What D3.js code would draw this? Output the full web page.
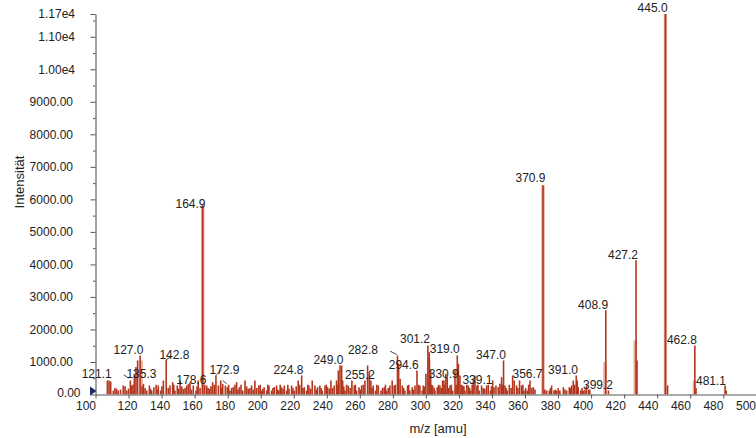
<!DOCTYPE html>
<html><head><meta charset="utf-8">
<script src="https://cdn.jsdelivr.net/npm/d3@7"></script>
<style>
html,body{margin:0;padding:0;background:#fff;}
svg{display:block;font-family:"Liberation Sans",Arial,sans-serif;}
</style></head><body>
<svg id="chart" width="756" height="438"></svg>
<script>
// centroid sticks: [m/z, intensity]
const sticks = [
[107.2,431],[108.2,431],[109.2,400],[110.8,123],[112.8,175],[113.8,123],[116.8,277],[118.9,123],
[121.1,431],[121.9,277],[123.5,637],[124.5,842],[125.5,1047],[127.0,1200],[129.0,328],[131.0,123],
[132.6,277],[134.0,123],[135.3,226],[138.0,277],[139.4,123],[141.1,431],[142.8,1067],[145.1,277],
[146.7,380],[148.1,123],[149.5,277],[151.2,431],[153.2,175],[155.2,277],[157.2,380],[159.2,277],
[160.8,123],[162.2,431],[164.9,5820],[167.3,277],[168.9,175],[170.9,380],[172.9,585],[174.4,277],
[175.8,431],[177.0,328],[178.6,277],[179.8,226],[181.4,123],[183.4,226],[185.4,380],[187.1,226],
[189.1,123],[190.5,431],[192.5,175],[194.5,277],[196.5,431],[198.8,277],[200.5,123],[202.1,226],
[203.6,123],[205.0,277],[206.6,123],[208.2,226],[209.6,277],[211.0,123],[212.6,226],[214.3,277],
[215.7,123],[217.1,175],[218.7,277],[220.3,123],[222.7,431],[224.8,585],[226.4,226],[227.8,123],
[229.2,277],[231.2,431],[232.8,277],[234.4,226],[235.8,277],[237.3,123],[238.9,277],[240.5,226],
[242.5,431],[244.5,277],[245.9,431],[247.0,740],[248.0,893],[249.0,893],[249.6,431],[251.0,123],
[253.0,277],[255.2,431],[256.6,277],[258.0,123],[259.5,226],[261.1,277],[263.1,431],[264.7,893],
[265.7,688],[266.7,431],[268.1,277],[269.5,123],[271.2,277],[272.8,123],[274.8,226],[276.2,123],
[278.2,277],[279.6,431],[280.8,277],[282.8,1200],[283.5,945],[284.4,483],[285.7,277],[287.3,123],
[288.9,277],[290.3,123],[291.7,226],[293.4,277],[294.6,740],[296.4,277],[297.8,123],[298.4,277],
[300.0,637],[301.2,1510],[302.0,1303],[302.9,740],[304.1,277],[305.5,123],[306.9,226],[308.5,277],
[310.1,431],[310.9,431],[312.1,637],[312.9,534],[314.6,277],[316.2,123],[317.6,740],[319.0,1200],
[319.7,945],[320.6,585],[322.2,277],[323.6,123],[325.7,277],[327.1,123],[328.7,431],[329.7,585],
[330.9,277],[332.3,123],[333.7,277],[335.7,175],[336.8,277],[339.1,123],[340.4,431],[341.2,226],
[342.4,277],[343.8,226],[344.8,328],[345.8,534],[347.0,1047],[347.9,277],[349.3,123],[352.5,585],
[353.5,431],[354.9,277],[356.7,431],[357.9,277],[359.4,123],[361.4,123],[363.0,431],[365.0,226],
[370.9,6435],[373.1,123],[374.7,123],[376.1,277],[377.5,123],[379.1,123],[381.1,123],[383.2,226],
[385.2,123],[386.8,226],[388.2,277],[389.2,431],[391.0,585],[391.6,431],[392.2,226],[393.7,123],
[395.3,123],[397.3,277],[398.6,150],[399.2,150],[408.9,2590],[410.5,123],[427.2,4125],[427.8,1047],
[445.0,11700],[446.3,277],[462.8,1508],[463.5,200],[481.1,277],[481.8,123],
[111.8,200],[115.2,150],[117.9,250],[120.0,180],[122.7,300],[128.2,250],[130.0,200],[133.3,180],
[136.7,300],[137.3,150],[140.2,250],[144.0,200],[147.4,300],[150.3,180],[152.2,250],[154.2,200],
[156.2,320],[158.1,150],[161.5,250],[163.3,200],[166.1,300],[168.1,200],[169.9,250],[171.9,300],
[176.4,200],[180.6,300],[182.4,200],[184.4,300],[186.2,150],[188.1,300],[191.5,250],[193.5,200],
[195.5,150],[197.6,200],[199.7,300],[201.3,180],[204.3,300],[207.4,200],[210.3,150],[211.8,300],
[213.5,180],[216.4,300],[219.5,200],[221.5,250],[223.6,300],[225.6,200],[228.5,300],[230.2,180],
[233.6,150],[236.6,200],[239.7,300],[241.5,180],[243.5,200],[246.5,300],[250.3,250],[252.0,300],
[254.1,200],[257.3,300],[260.3,150],[262.1,300],[267.4,200],[270.3,300],[273.8,200],[275.5,300],
[277.2,200],[281.5,300],[286.5,200],[289.6,300],[292.5,150],[295.5,300],[299.2,250],[303.5,300],
[305.0,200],[307.7,300],[309.3,200],[311.5,300],[313.8,200],[315.4,300],[318.3,300],[321.4,300],
[323.0,250],[324.8,300],[326.4,200],[328.0,300],[331.5,300],[334.7,200],[337.8,300],[339.7,250],
[346.4,300],[348.6,200],[350.5,300],[351.6,200],[355.7,200],[358.7,300],[360.4,200],[362.2,300],
[364.0,200],[366.0,150],[372.0,150],[375.4,200],[378.3,150],[380.1,200],[384.2,150],[387.5,200],
[390.0,300],[394.5,200],[396.3,150]
];
// profile (light) bars: [m/z, intensity]
const profile = [
[127.6,1047],[164.9,5820],[301.8,1100],[370.9,6435],[408.4,1000],[426.7,1663],[445.0,11700],[462.5,431]
];
// peak annotations: text and its position in data units
const labelText = ["121.1","127.0","135.3","142.8","164.9","172.9","178.6","224.8","249.0","255.2","282.8","294.6","301.2","319.0","330.9","339.1","347.0","356.7","370.9","391.0","399.2","408.9","427.2","445.0","462.8","481.1"];
const labelMz   = [100.7,120.0,127.8,147.8,157.5,178.1,158.0,216.8,241.0,260.1,261.9,286.6,293.4,311.4,310.8,331.2,339.4,361.5,363.3,383.0,404.2,401.2,419.3,437.2,455.0,472.6];
const labelInt  = [637,1385,637,1231,5850,770,462,770,1078,616,1385,924,1724,1416,647,462,1231,647,6650,770,308,2771,4310,11905,1694,431];
// leader lines: [mz1, int1, mz2, int2]
const leaders = [[117.1,606,120.1,502],[142.7,1068,146.1,1170],[172.9,585,176.3,760],[177.0,431,179.4,330],[278.3,1333,282.3,1231]];
const xTicks = [100,120,140,160,180,200,220,240,260,280,300,320,340,360,380,400,420,440,460,480,500];
const yTicks = [0,1000,2000,3000,4000,5000,6000,7000,8000,9000,10000,11000,11700];
const yMinor = [500,1500,2500,3500,4500,5500,6500,7500,8500,9500,10500,11500];

const svg = d3.select("#chart");
const x = d3.scaleLinear().domain([100,500]).range([95.5,756.3]);
const y = d3.scaleLinear().domain([0,11700]).range([394.5,14]);
const xLabelPos = d3.scaleLinear().domain([120,500]).range([127,745.5]);

const dark = "#b3361f", pale = "#e8ab9c";

svg.append("g").selectAll("line").data(profile).join("line")
  .attr("x1", d=>x(d[0])).attr("x2", d=>x(d[0]))
  .attr("y1", y(0)).attr("y2", d=>y(d[1]))
  .attr("stroke", pale).attr("stroke-width", 3.4);

svg.append("g").selectAll("line").data(sticks).join("line")
  .attr("x1", d=>x(d[0])).attr("x2", d=>x(d[0]))
  .attr("y1", y(0)).attr("y2", d=>y(d[1]))
  .attr("stroke", dark).attr("stroke-width", 1.6);

// axes
const fmt = d => d >= 10000 ? (d/1e4).toFixed(2)+"e4" : d.toFixed(2);
const yAxis = svg.append("g").attr("transform","translate(95.5,0)")
  .call(d3.axisLeft(y).tickValues(yTicks).tickSize(5).tickPadding(17.5).tickSizeOuter(0).tickFormat(fmt));
svg.append("g").attr("transform","translate(95.5,0)")
  .call(d3.axisLeft(y).tickValues(yMinor).tickSize(2.5).tickSizeOuter(0).tickFormat(""))
  .call(g=>g.select(".domain").remove());
yAxis.selectAll(".tick text").filter(d=>d>=10000).attr("x",-20.5);
yAxis.selectAll(".tick text").filter(d=>d===0).attr("x",-15).attr("dy","0.2em");

const xAxis = svg.append("g").attr("transform","translate(0,394.5)")
  .call(d3.axisBottom(x).tickValues(xTicks).tickSize(4).tickPadding(3).tickSizeOuter(0).tickFormat(d3.format("d")));
xAxis.selectAll(".tick text")
  .attr("x", d => d===100 ? 0 : xLabelPos(d) - x(d))
  .attr("text-anchor", d => d===100 ? "end" : "middle");

svg.selectAll(".domain").attr("stroke","#8c8c8c").attr("stroke-width",1.6);
svg.selectAll(".tick line").attr("stroke","#555");
svg.selectAll(".tick text").attr("fill","#222").style("font-size","12px").style("font-family","'Liberation Sans',Arial,sans-serif");

// marker triangle at origin
svg.append("path")
  .attr("d", `M${x(100)-5.5},${y(0)-8}L${x(100)-5.5},${y(0)+1}L${x(100)+1},${y(0)-3.5}Z`)
  .attr("fill","#1d2a66");

// leader lines
svg.append("g").selectAll("line").data(leaders).join("line")
  .attr("x1",d=>x(d[0])).attr("y1",d=>y(d[1])).attr("x2",d=>x(d[2])).attr("y2",d=>y(d[3]))
  .attr("stroke","#333").attr("stroke-width",0.9);

// peak labels
svg.append("g").selectAll("text").data(labelText).join("text")
  .attr("x",(d,i)=>x(labelMz[i])).attr("y",(d,i)=>y(labelInt[i]))
  .attr("dy","0.35em").attr("text-anchor","middle")
  .style("font-size","12px").attr("fill","#222").text(d=>d);

// axis titles
svg.append("text").attr("transform","translate(19,182) rotate(-90)")
  .attr("text-anchor","middle").attr("dy","0.35em").style("font-size","13px").attr("fill","#222").text("Intensität");
svg.append("text").attr("x",438).attr("y",428).attr("dy","0.35em")
  .attr("text-anchor","middle").style("font-size","13px").attr("fill","#222").text("m/z [amu]");
</script>
</body></html>
